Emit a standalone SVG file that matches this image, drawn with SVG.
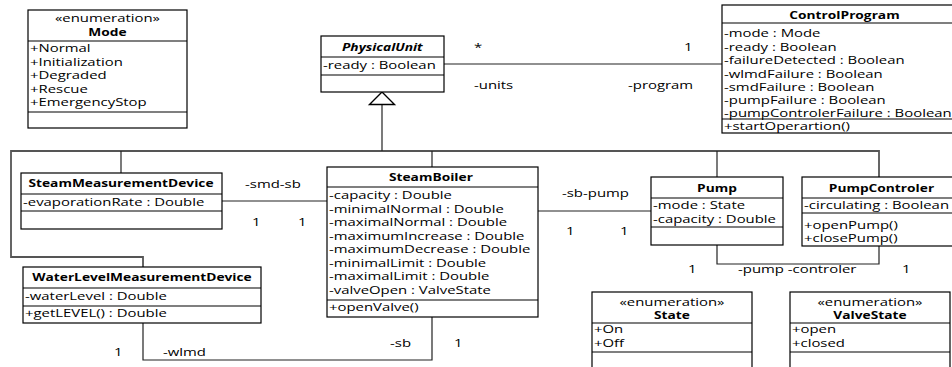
<svg xmlns="http://www.w3.org/2000/svg" width="952" height="367" viewBox="0 0 952 367">
<style>
text { font-family: "Open Sans", "Liberation Sans", sans-serif; font-size: 10.5px; fill: #000; transform-box: fill-box; transform-origin: 0 0; transform: scaleX(1.42); }
text.c { text-anchor: middle; transform-origin: 50% 50%; }
text.b { font-weight: bold; transform: scaleX(1.31); }
text.i { font-style: italic; }
.box { fill: #fff; stroke: #000; stroke-width: 1.2; }
.sep { stroke: #000; stroke-width: 1.2; }
.ln { fill: none; stroke: #222; stroke-width: 1.2; }
.bus { fill: none; stroke: #555; stroke-width: 1.8; }
.gen { fill: #fff; stroke: #000; stroke-width: 1.4; }
</style>

<g id="connectors">
<path class="bus" d="M143,267 V257 H11 V151 H879 V177"/>
<path class="ln" d="M121,151 V173"/>
<path class="ln" d="M432,151 V167"/>
<path class="ln" d="M717,151 V177"/>
<path class="ln" d="M382,105 V151" stroke-width="2"/>
<path class="gen" d="M382,92 L394.5,104.5 L369.5,104.5 Z"/>
<path class="ln" d="M444,64 H722"/>
<path class="ln" d="M222,201 H327"/>
<path class="ln" d="M538,211 H651"/>
<path class="ln" d="M717,245 V264 H879 V246"/>
<path class="ln" d="M143,323 V360 H432 V317"/>
<text x="474" y="51">*</text>
<text x="684" y="51">1</text>
<text x="474" y="89">-units</text>
<text x="628" y="89">-program</text>
<text x="245" y="188">-smd-sb</text>
<text x="252" y="226">1</text>
<text x="298" y="226">1</text>
<text x="562" y="197">-sb-pump</text>
<text x="566" y="235">1</text>
<text x="620" y="235">1</text>
<text x="688" y="273">1</text>
<text x="738" y="273">-pump -controler</text>
<text x="902" y="273">1</text>
<text x="114" y="356">1</text>
<text x="163" y="356">-wlmd</text>
<text x="390" y="347">-sb</text>
<text x="454" y="347">1</text>
</g>

<g id="Mode">
<rect class="box" x="28" y="10" width="159" height="118"/>
<line class="sep" x1="28" y1="41" x2="187" y2="41"/>
<line class="sep" x1="28" y1="112" x2="187" y2="112"/>
<text class="c" x="107.5" y="22">«enumeration»</text>
<text class="c b" x="107.5" y="36">Mode</text>
<text x="30" y="52">+Normal</text>
<text x="30" y="66">+Initialization</text>
<text x="30" y="79">+Degraded</text>
<text x="30" y="93">+Rescue</text>
<text x="30" y="106">+EmergencyStop</text>
</g>

<g id="PhysicalUnit">
<rect class="box" x="321" y="36" width="123" height="56"/>
<line class="sep" x1="321" y1="57" x2="444" y2="57"/>
<line class="sep" x1="321" y1="75" x2="444" y2="75"/>
<text class="c b i" x="382.5" y="51">PhysicalUnit</text>
<text x="323" y="69">-ready : Boolean</text>
</g>

<g id="ControlProgram">
<rect class="box" x="722" y="5" width="250" height="128"/>
<line class="sep" x1="722" y1="23" x2="972" y2="23"/>
<line class="sep" x1="722" y1="119" x2="972" y2="119"/>
<text class="c b" x="844.5" y="19">ControlProgram</text>
<text x="724" y="37">-mode : Mode</text>
<text x="724" y="51">-ready : Boolean</text>
<text x="724" y="64">-failureDetected : Boolean</text>
<text x="724" y="78">-wlmdFailure : Boolean</text>
<text x="724" y="91">-smdFailure : Boolean</text>
<text x="724" y="104">-pumpFailure : Boolean</text>
<text x="724" y="117">-pumpControlerFailure : Boolean</text>
<text x="724" y="130">+startOperartion()</text>
</g>

<g id="SteamMeasurementDevice">
<rect class="box" x="21" y="173" width="201" height="56"/>
<line class="sep" x1="21" y1="194" x2="222" y2="194"/>
<line class="sep" x1="21" y1="211" x2="222" y2="211"/>
<text class="c b" x="121" y="187">SteamMeasurementDevice</text>
<text x="23" y="206">-evaporationRate : Double</text>
</g>

<g id="WaterLevelMeasurementDevice">
<rect class="box" x="23" y="267" width="238" height="56"/>
<line class="sep" x1="23" y1="288" x2="261" y2="288"/>
<line class="sep" x1="23" y1="306" x2="261" y2="306"/>
<text class="c b" x="142" y="281">WaterLevelMeasurementDevice</text>
<text x="25" y="300">-waterLevel : Double</text>
<text x="25" y="317">+getLEVEL() : Double</text>
</g>

<g id="SteamBoiler">
<rect class="box" x="327" y="167" width="211" height="150"/>
<line class="sep" x1="327" y1="187" x2="538" y2="187"/>
<line class="sep" x1="327" y1="300" x2="538" y2="300"/>
<text class="c b" x="431" y="181">SteamBoiler</text>
<text x="329" y="199">-capacity : Double</text>
<text x="329" y="213">-minimalNormal : Double</text>
<text x="329" y="226">-maximalNormal : Double</text>
<text x="329" y="240">-maximumIncrease : Double</text>
<text x="329" y="253">-maximumDecrease : Double</text>
<text x="329" y="267">-minimalLimit : Double</text>
<text x="329" y="280">-maximalLimit : Double</text>
<text x="329" y="294">-valveOpen : ValveState</text>
<text x="329" y="311">+openValve()</text>
</g>

<g id="Pump">
<rect class="box" x="651" y="177" width="132" height="68"/>
<line class="sep" x1="651" y1="198" x2="783" y2="198"/>
<line class="sep" x1="651" y1="227" x2="783" y2="227"/>
<text class="c b" x="717" y="192">Pump</text>
<text x="653" y="209">-mode : State</text>
<text x="653" y="223">-capacity : Double</text>
</g>

<g id="PumpControler">
<rect class="box" x="802" y="177" width="160" height="69"/>
<line class="sep" x1="802" y1="198" x2="962" y2="198"/>
<line class="sep" x1="802" y1="213" x2="962" y2="213"/>
<text class="c b" x="881.5" y="192">PumpControler</text>
<text x="804" y="209">-circulating : Boolean</text>
<text x="804" y="229">+openPump()</text>
<text x="804" y="242">+closePump()</text>
</g>

<g id="State">
<rect class="box" x="592" y="292" width="160" height="90"/>
<line class="sep" x1="592" y1="323" x2="752" y2="323"/>
<line class="sep" x1="592" y1="352" x2="752" y2="352"/>
<text class="c" x="672" y="306">«enumeration»</text>
<text class="c b" x="672" y="319">State</text>
<text x="594" y="333">+On</text>
<text x="594" y="347">+Off</text>
</g>

<g id="ValveState">
<rect class="box" x="790" y="292" width="160" height="90"/>
<line class="sep" x1="790" y1="323" x2="950" y2="323"/>
<line class="sep" x1="790" y1="352" x2="950" y2="352"/>
<text class="c" x="870" y="306">«enumeration»</text>
<text class="c b" x="870" y="319">ValveState</text>
<text x="792" y="333">+open</text>
<text x="792" y="347">+closed</text>
</g>
</svg>
